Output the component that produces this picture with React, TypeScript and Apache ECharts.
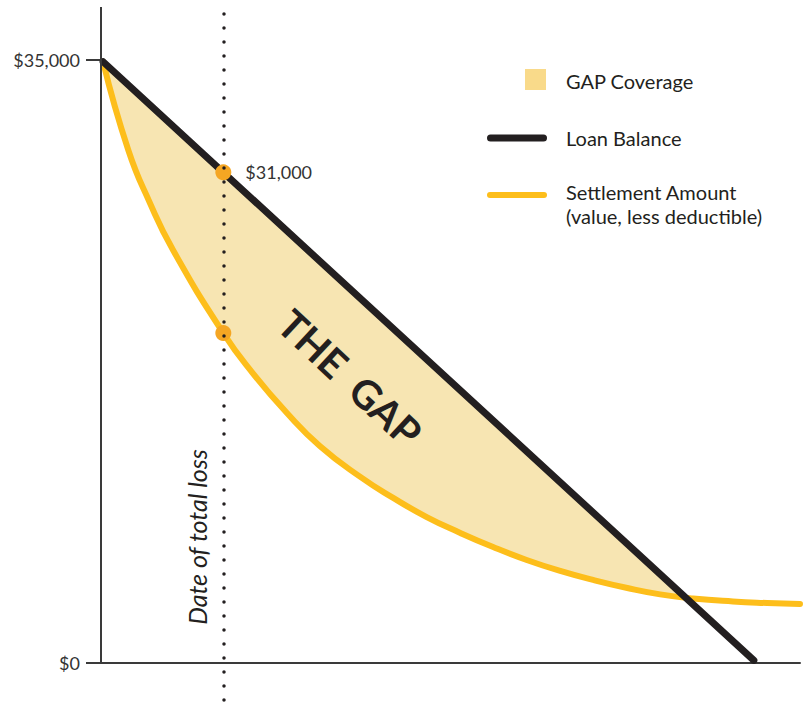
import React, { useEffect, useRef } from 'react';
import * as echarts from 'echarts';

// ---- data ----
const X_MIN = 0;
const X_MAX = 100;
const Y_MIN = -2150;
const Y_MAX = 38080;
const yTickValues = [0, 35000];
const lossDate = 17.5;
const loanBalance = [
  [0.3, 34900],
  [93.4, 150],
];
const settlementAmount = [
  [0.3, 34900],
  [3.9, 29780],
  [7.0, 26700],
  [10.3, 23970],
  [17.5, 19150],
  [21.7, 16830],
  [26.6, 14510],
  [31.3, 12600],
  [37.1, 10800],
  [41.8, 9580],
  [46.6, 8470],
  [51.4, 7550],
  [56.1, 6730],
  [60.9, 5980],
  [65.7, 5340],
  [70.4, 4820],
  [75.3, 4350],
  [80.0, 3980],
  [84.7, 3740],
  [90.4, 3570],
  [95.3, 3480],
  [100, 3420],
];
const crossing = [83.6, 3790];
const lossPoints = [
  [17.5, 28480],
  [17.5, 19150],
];
const lossPointLabels = ['$31,000', ''];
const legendLabels = ['GAP Coverage', 'Loan Balance', 'Settlement Amount\n(value, less deductible)'];

const C_LOAN = '#231F20';
const C_SETTLE = '#FDBE1B';
const C_FILL = '#F7E5B2';
const C_LEGEND_FILL = '#F9DA8A';
const C_DOT = '#F5A623';
const C_AXIS = '#3A3A3A';
const C_TEXT = '#231F20';
const FONT = 'Lato, "Open Sans", sans-serif';

const gapPolygon = [
  loanBalance[0],
  crossing,
  ...settlementAmount.filter((p) => p[0] < crossing[0] && p[0] > loanBalance[0][0]).reverse(),
  settlementAmount[0],
];

export default function App() {
  const ref = useRef<HTMLDivElement>(null);
  useEffect(() => {
    document.body.style.margin = '0';
    const chart = echarts.init(ref.current!, null, { renderer: 'svg' });
    const option: any = {
      animation: false,
      backgroundColor: '#ffffff',
      textStyle: { fontFamily: FONT },
      grid: { left: 101, right: 9, top: 7, bottom: 2 },
      xAxis: {
        type: 'value',
        min: X_MIN,
        max: X_MAX,
        axisLine: { show: true, onZero: true, lineStyle: { color: C_AXIS, width: 2 } },
        axisTick: { show: false },
        axisLabel: { show: false },
        splitLine: { show: false },
      },
      yAxis: {
        type: 'value',
        min: Y_MIN,
        max: Y_MAX,
        axisLine: { show: false },
        axisTick: {
          show: true,
          customValues: yTickValues,
          length: 15,
          lineStyle: { color: C_AXIS, width: 2 },
        },
        axisLabel: {
          show: true,
          customValues: yTickValues,
          margin: 21,
          fontSize: 18,
          color: '#333333',
          fontFamily: FONT,
          formatter: (v: number) => '$' + Number(v).toLocaleString('en-US'),
        },
        splitLine: { show: false },
      },
      series: [
        {
          type: 'custom',
          name: legendLabels[0],
          silent: true,
          z: 1,
          data: [[0, 0]],
          renderItem: (_params: any, api: any) => ({
            type: 'polygon',
            shape: { points: gapPolygon.map((p) => api.coord(p)) },
            style: { fill: C_FILL },
          }),
        },
        {
          type: 'line',
          name: 'Settlement Amount',
          data: settlementAmount,
          smooth: 0.5,
          showSymbol: false,
          silent: true,
          z: 2,
          lineStyle: { color: C_SETTLE, width: 6, cap: 'round' },
          markLine: {
            silent: true,
            symbol: ['none', 'none'],
            label: { show: false },
            data: [
              {
                xAxis: lossDate,
                lineStyle: { color: C_LOAN, width: 3.5, type: [0, 14], cap: 'round' },
              },
              [
                { coord: [X_MIN, 0], lineStyle: { color: C_AXIS, width: 2, type: 'solid' } },
                { coord: [X_MIN, Y_MAX] },
              ],
            ],
          },
        },
        {
          type: 'line',
          name: 'Loan Balance',
          data: loanBalance,
          showSymbol: false,
          silent: true,
          z: 3,
          lineStyle: { color: C_LOAN, width: 7, cap: 'round' },
        },
        {
          type: 'scatter',
          silent: true,
          z: 4,
          symbolSize: 16,
          itemStyle: { color: C_DOT, opacity: 1 },
          data: lossPoints.map((p, i) => ({
            value: p,
            label: {
              show: lossPointLabels[i] !== '',
              formatter: lossPointLabels[i],
              position: 'right',
              distance: 14,
              fontSize: 18,
              color: '#333333',
              fontFamily: FONT,
            },
          })),
        },
      ],
      graphic: [
        // legend
        { type: 'rect', shape: { x: 525, y: 69, width: 21, height: 21 }, style: { fill: C_LEGEND_FILL } },
        {
          type: 'text',
          x: 566,
          y: 81,
          style: { text: legendLabels[0], fontSize: 20, fontFamily: FONT, fill: C_TEXT, verticalAlign: 'middle' },
        },
        {
          type: 'line',
          shape: { x1: 490.5, y1: 138, x2: 543.5, y2: 138 },
          style: { stroke: C_LOAN, lineWidth: 7, lineCap: 'round' },
        },
        {
          type: 'text',
          x: 566,
          y: 138,
          style: { text: legendLabels[1], fontSize: 20, fontFamily: FONT, fill: C_TEXT, verticalAlign: 'middle' },
        },
        {
          type: 'line',
          shape: { x1: 490, y1: 195, x2: 544, y2: 195 },
          style: { stroke: C_SETTLE, lineWidth: 6, lineCap: 'round' },
        },
        {
          type: 'text',
          x: 566,
          y: 180,
          style: {
            text: legendLabels[2],
            fontSize: 20,
            lineHeight: 24,
            fontFamily: FONT,
            fill: C_TEXT,
            verticalAlign: 'top',
          },
        },
        // annotations
        {
          type: 'text',
          x: 350,
          y: 378,
          rotation: (-43 * Math.PI) / 180,
          z: 10,
          style: {
            text: 'THE  GAP',
            fontSize: 40,
            fontWeight: 'bold',
            fontFamily: FONT,
            fill: C_TEXT,
            align: 'center',
            verticalAlign: 'middle',
          },
        },
        {
          type: 'text',
          x: 197,
          y: 537,
          rotation: Math.PI / 2,
          z: 10,
          style: {
            text: 'Date of total loss',
            fontSize: 25,
            fontStyle: 'italic',
            fontFamily: FONT,
            fill: C_TEXT,
            align: 'center',
            verticalAlign: 'middle',
          },
        },
      ],
    };
    chart.setOption(option);
    return () => chart.dispose();
  }, []);
  return <div ref={ref} style={{ width: 809, height: 702 }} />;
}
